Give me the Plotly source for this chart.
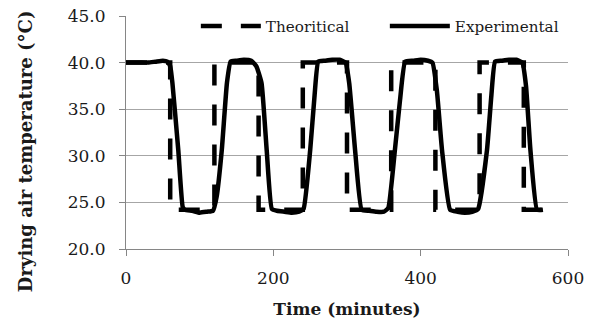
import plotly.graph_objects as go

# Theoretical square-wave profile (time in minutes, temperature in °C)
theo_time = [0, 60, 60, 120, 120, 180, 180, 240, 240, 300, 300, 360, 360, 420, 420, 480, 480, 540, 540, 570]
theo_temp = [40.0, 40.0, 24.2, 24.2, 40.0, 40.0, 24.2, 24.2, 40.0, 40.0, 24.2, 24.2, 40.0, 40.0, 24.2, 24.2, 40.0, 40.0, 24.2, 24.2]

# Experimental profile
exp_time = [0, 10, 20, 30, 40, 50, 56, 60, 63, 71, 77, 80, 90, 100, 110, 118,
            123, 130, 137, 142, 150, 160, 170, 177, 184, 191, 198, 205, 215, 225, 235, 241,
            250, 256, 261, 270, 280, 290, 298, 303, 311, 320, 330, 340, 350, 356,
            365, 372, 379, 390, 400, 410, 416, 422, 429, 440, 450, 460, 470, 478,
            490, 496, 501, 510, 520, 530, 538, 543, 549, 558, 566]
exp_temp = [40.0, 40.0, 40.0, 40.0, 40.1, 40.2, 40.1, 39.6, 37.8, 30.6, 24.5, 24.2, 24.1, 23.9, 24.0, 24.1,
            25.6, 30.6, 37.8, 40.1, 40.2, 40.3, 40.2, 39.6, 37.8, 30.6, 24.3, 24.1, 24.0, 23.9, 24.0, 24.3,
            30.6, 36.5, 40.1, 40.2, 40.3, 40.3, 40.0, 37.8, 30.6, 24.2, 24.1, 24.0, 24.0, 24.4,
            30.6, 36.0, 40.1, 40.2, 40.3, 40.2, 40.0, 37.0, 30.6, 24.2, 24.0, 23.9, 24.0, 24.3,
            30.6, 36.5, 40.1, 40.2, 40.3, 40.3, 40.0, 37.5, 30.6, 24.2, 24.2]

x_ticks = [0, 200, 400, 600]
y_ticks = [20, 25, 30, 35, 40, 45]

FONT = "DejaVu Serif"
GRID = "#a6a6a6"
AXIS = "#868686"
TEXT = "#1a1a1a"

fig = go.Figure()
fig.add_trace(go.Scatter(
    x=theo_time, y=theo_temp, mode="lines", name="Theoritical",
    line=dict(color="black", width=4.5, dash="21px,19px"),
))
fig.add_trace(go.Scatter(
    x=exp_time, y=exp_temp, mode="lines", name="Experimental",
    line=dict(color="black", width=4.5, shape="spline", smoothing=0.4),
))

fig.update_layout(
    width=591, height=320,
    margin=dict(l=126, r=23, t=16, b=71, pad=0, autoexpand=False),
    paper_bgcolor="white", plot_bgcolor="white",
    font=dict(family=FONT, size=17, color=TEXT),
    showlegend=True,
    legend=dict(orientation="h", x=0.158, y=0.957, xanchor="left", yanchor="middle",
                bgcolor="rgba(0,0,0,0)", font=dict(family=FONT, size=15.2, color=TEXT),
                itemwidth=60, entrywidth=114),
    xaxis=dict(range=[0, 600], tickvals=x_ticks, ticks="outside", ticklen=6,
               tickcolor=AXIS, showline=True, linecolor=AXIS, linewidth=1,
               showgrid=False, zeroline=False, ticklabelstandoff=8,
               tickfont=dict(size=17),
               title=dict(text="<b>Time (minutes)</b>", font=dict(family=FONT, size=17), standoff=15)),
    yaxis=dict(range=[20, 45], tickvals=y_ticks, tickformat=".1f", ticks="outside", ticklen=6,
               tickcolor=AXIS, showline=True, linecolor=AXIS, linewidth=1,
               showgrid=True, gridcolor=GRID, gridwidth=1, zeroline=False, ticklabelstandoff=10,
               tickfont=dict(size=17)),
    annotations=[dict(text="<b>Drying air temperature (°C)</b>", textangle=-90,
                      xref="paper", yref="paper", x=-101 / 442, y=0.42,
                      xanchor="center", yanchor="middle", showarrow=False,
                      font=dict(family=FONT, size=18, color=TEXT))],
)

fig.write_html("out.html")
